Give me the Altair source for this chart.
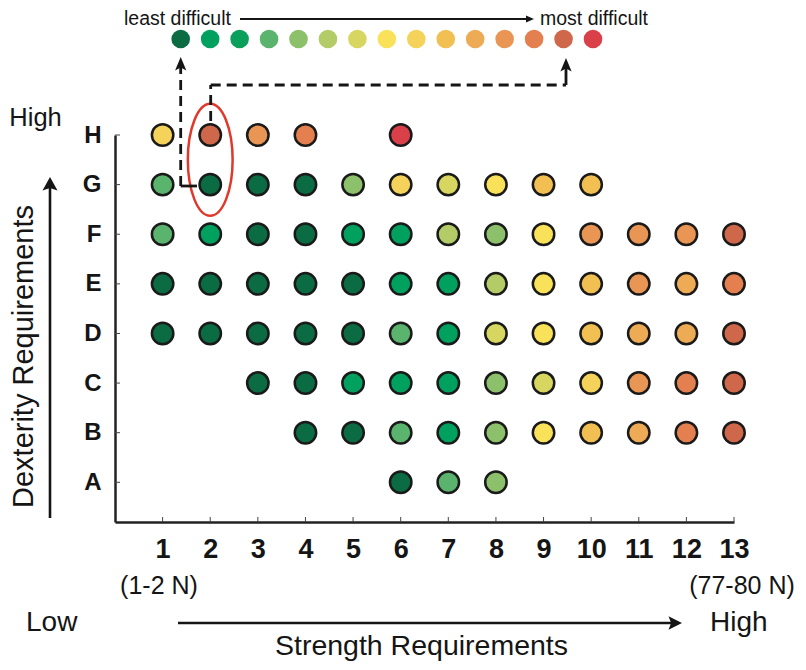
import altair as alt
import pandas as pd

FONT = "Liberation Sans"
INK = "#151515"

# ---------------- data ----------------
dexterity_levels = ["A", "B", "C", "D", "E", "F", "G", "H"]
strength_levels = list(range(1, 14))
difficulty_levels = list(range(1, 16))
palette = ["#0b6b42", "#00a05e", "#0aa05c", "#5ab46e", "#8cc06a", "#b4cc68",
           "#d6d660", "#f9e15a", "#f5d35a", "#f2bf52", "#eeab55", "#e99654",
           "#e4804f", "#cf674a", "#d9404a"]

row_H_strength = [1, 2, 3, 4, 6]
row_H_difficulty = [9, 14, 12, 13, 15]
row_G_strength = [1, 2, 3, 4, 5, 6, 7, 8, 9, 10]
row_G_difficulty = [4, 1, 1, 1, 5, 9, 7, 8, 10, 10]
row_F_strength = [1, 2, 3, 4, 5, 6, 7, 8, 9, 10, 11, 12, 13]
row_F_difficulty = [4, 2, 1, 1, 2, 2, 6, 5, 8, 12, 12, 12, 14]
row_E_strength = [1, 2, 3, 4, 5, 6, 7, 8, 9, 10, 11, 12, 13]
row_E_difficulty = [1, 1, 1, 1, 1, 2, 2, 6, 8, 10, 12, 11, 13]
row_D_strength = [1, 2, 3, 4, 5, 6, 7, 8, 9, 10, 11, 12, 13]
row_D_difficulty = [1, 1, 1, 1, 1, 4, 2, 7, 8, 10, 11, 11, 14]
row_C_strength = [3, 4, 5, 6, 7, 8, 9, 10, 11, 12, 13]
row_C_difficulty = [1, 1, 2, 2, 2, 5, 7, 9, 12, 13, 14]
row_B_strength = [4, 5, 6, 7, 8, 9, 10, 11, 12, 13]
row_B_difficulty = [1, 1, 4, 2, 5, 8, 10, 11, 13, 14]
row_A_strength = [6, 7, 8]
row_A_difficulty = [1, 4, 5]

highlight_strength = [2]
highlight_rows = ["G", "H"]

rows = {
    "H": (row_H_strength, row_H_difficulty),
    "G": (row_G_strength, row_G_difficulty),
    "F": (row_F_strength, row_F_difficulty),
    "E": (row_E_strength, row_E_difficulty),
    "D": (row_D_strength, row_D_difficulty),
    "C": (row_C_strength, row_C_difficulty),
    "B": (row_B_strength, row_B_difficulty),
    "A": (row_A_strength, row_A_difficulty),
}
records = []
for letter, (ss, dd) in rows.items():
    for s, d in zip(ss, dd):
        records.append({"dexterity": letter, "strength": s, "difficulty": d})
grid = pd.DataFrame(records)

# ---------------- scales / axes ----------------
W, H = 619, 387
x_scale = alt.Scale(domain=[0, 13], nice=False, zero=False)
y_scale = alt.Scale(domain=[0.2, 8], nice=False, zero=False)
color_scale = alt.Scale(domain=difficulty_levels, range=palette)
row_expr = "indexof('ABCDEFGH', datum.dexterity) + 1"
letters_js = "['', " + ", ".join(f"'{c}'" for c in dexterity_levels) + "]"

y_axis = alt.Axis(values=list(range(1, 9)), title=None, ticks=False, grid=False,
                  labelExpr=f"{letters_js}[datum.value]",
                  labelFont=FONT, labelFontSize=24, labelFontWeight="bold",
                  labelColor=INK, labelPadding=14, labelOverlap=False,
                  labelBaseline="middle", domainColor="#222", domainWidth=2.5)
x_axis = alt.Axis(values=strength_levels, title=None, ticks=False, grid=False,
                  labelFont=FONT, labelFontSize=27, labelFontWeight="bold",
                  labelColor=INK, labelPadding=14, labelFlush=False,
                  labelOverlap=False, domainColor="#222", domainWidth=2.5)

one = pd.DataFrame({"k": [0]})

points = alt.Chart(grid).transform_calculate(row=row_expr).mark_circle(
    size=460, stroke="#1a1a1a", strokeWidth=2.5, opacity=1
).encode(
    x=alt.X("strength:Q", scale=x_scale, axis=x_axis),
    y=alt.Y("row:Q", scale=y_scale, axis=y_axis),
    color=alt.Color("difficulty:O", scale=color_scale, legend=None),
)

# inward tick marks
xticks = alt.Chart(pd.DataFrame({"strength": strength_levels})).mark_rule(
    color="#444", strokeWidth=1
).encode(x=alt.X("strength:Q", scale=x_scale, axis=None),
         y=alt.value(H), y2=alt.value(H - 5))
yticks = alt.Chart(pd.DataFrame({"dexterity": dexterity_levels})).transform_calculate(
    row=row_expr).mark_rule(color="#444", strokeWidth=1).encode(
    y=alt.Y("row:Q", scale=y_scale, axis=y_axis), x=alt.value(0), x2=alt.value(5))

# highlight ellipse around strength 2, rows G-H
ELLIPSE = "M -0.4 0 A 0.4 1 0 1 0 0.4 0 A 0.4 1 0 1 0 -0.4 0 Z"
hl = pd.DataFrame({"strength": highlight_strength * len(highlight_rows), "dexterity": highlight_rows})
ellipse = alt.Chart(hl).transform_calculate(row=row_expr).transform_aggregate(
    strength="mean(strength)", row="mean(row)"
).mark_point(shape=ELLIPSE, size=12544, filled=False, stroke="#e0392b",
             strokeWidth=2.5, opacity=1).encode(
    x=alt.X("strength:Q", scale=x_scale, axis=None),
    y=alt.Y("row:Q", scale=y_scale, axis=y_axis))

# difficulty key at the top
legend_dots = alt.Chart(pd.DataFrame({"difficulty": difficulty_levels})).mark_circle(
    size=346, opacity=1).encode(
    x=alt.X("difficulty:O", scale=alt.Scale(type="point", domain=difficulty_levels,
                                            range=[65.7, 478], padding=0), axis=None),
    y=alt.value(-96),
    color=alt.Color("difficulty:O", scale=color_scale, legend=None))


def seg(x1, y1, x2, y2, dash=None, width=2.0):
    kw = dict(color=INK, strokeWidth=width)
    if dash:
        kw["strokeDash"] = dash
    return alt.Chart(one).mark_rule(**kw).encode(
        x=alt.value(x1), y=alt.value(y1), x2=alt.value(x2), y2=alt.value(y2))


def head(x, y, shape, size):
    return alt.Chart(one).mark_point(shape=shape, size=size, filled=True, color=INK,
                                     opacity=1, strokeWidth=0).encode(
        x=alt.value(x), y=alt.value(y))


def label(text, x, y, size, align="left", angle=0, weight="normal"):
    return alt.Chart(one).mark_text(text=text, align=align, baseline="alphabetic",
                                    fontSize=size, font=FONT, angle=angle,
                                    fontWeight=weight, color=INK).encode(
        x=alt.value(x), y=alt.value(y))


UP = "M 0 -1 L 0.75 0.8 L 0 0.4 L -0.75 0.8 Z"
UP_BIG = "M 0 -1 L 1 0.8 L 0 0.45 L -1 0.8 Z"
RIGHT_BIG = "M 1 0 L -0.8 0.9 L -0.45 0 L -0.8 -0.9 Z"
RIGHT_SMALL = "M 1 0 L -1 0.9 L -1 -0.9 Z"

DASH = [10, 6]
annotations = [
    # top key
    label("least difficult", 9, -110.5, 19.5),
    seg(125, -116, 413, -116, width=2),
    head(415, -116, RIGHT_SMALL, 64),
    label("most difficult", 425, -110.5, 19.5),
    # connector: least difficult -> G2
    seg(65.7, -71, 65.7, 51, dash=DASH, width=2.8),
    seg(65.7, 51, 82, 51, width=2.8),
    head(65.7, -70.5, UP, 225),
    # connector: H2 -> its colour in the key
    seg(95.7, -14, 95.7, -50, dash=DASH, width=2.8),
    seg(95.7, -50, 451, -50, dash=DASH, width=2.8),
    seg(451, -50, 451, -68, width=2.8),
    head(451, -69.5, UP, 225),
    # y-axis description
    label("High", -105.7, -9, 25.5),
    seg(-65, 383, -65, 50, width=2.6),
    head(-65, 49.5, UP_BIG, 225),
    label("Dexterity Requirements", -82, 221.5, 29, align="center", angle=270),
    # x-axis description
    label("(1-2 N)", 44, 459, 25, align="center"),
    label("(77-80 N)", 627, 459, 25, align="center"),
    label("Low", -89, 496, 28),
    seg(63, 488, 560, 488, width=2.6),
    head(559.5, 488, RIGHT_BIG, 225),
    label("High", 595, 496, 28),
    label("Strength Requirements", 306.5, 520, 28.5, align="center"),
]

chart = alt.layer(
    points, xticks, yticks, ellipse, legend_dots, *annotations
).resolve_scale(x="independent").properties(
    width=W, height=H,
    padding={"left": 107, "top": 127, "right": 63, "bottom": 140},
    autosize=alt.AutoSizeParams(type="none"),
    background="white",
).configure_view(stroke=None)

chart.save("out.html", embed_options={"renderer": "svg", "actions": False})
